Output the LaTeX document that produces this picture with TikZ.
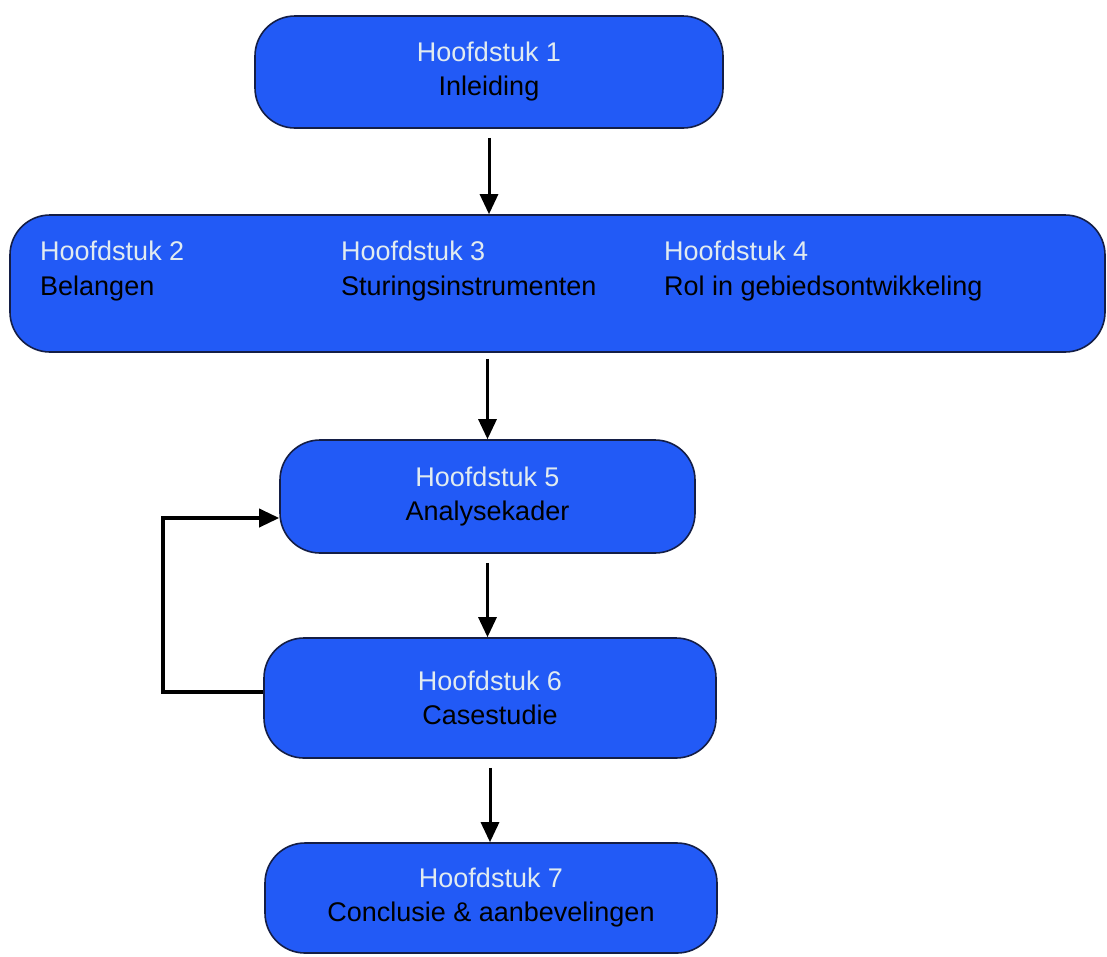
\documentclass[tikz,border=0pt]{standalone}
\usepackage{fontspec}
\setmainfont{Liberation Sans}
\usetikzlibrary{arrows.meta}
\definecolor{boxblue}{RGB}{34,90,246}
\definecolor{boxline}{RGB}{20,30,70}
\definecolor{kopwit}{RGB}{225,235,240}

\begin{document}
\begin{tikzpicture}[x=1pt,y=-1pt,
    hfd/.style={draw=boxline, line width=1.6pt, fill=boxblue, rounded corners=40pt,
      inner sep=0pt, align=center, font=\fontsize{27}{34}\selectfont},
    kolom/.style={anchor=west, align=left, inner sep=0pt, font=\fontsize{27}{35}\selectfont},
    pijl/.style={-{Triangle[length=20pt,width=18pt]}, line width=3pt}]
    \useasboundingbox[fill=white] (0,0) rectangle (1107,956);

    % hoofdstukken
    \node[hfd, minimum width=468pt, minimum height=112pt] (h1) at (489,72)
      {\textcolor{kopwit}{Hoofdstuk 1}\\Inleiding};
    \node[hfd, minimum width=1095pt, minimum height=137pt] (h234) at (557.5,283.5) {};
    \node[kolom] (h2) at (40,271) {\textcolor{kopwit}{Hoofdstuk 2}\\Belangen};
    \node[kolom] (h3) at (341,271) {\textcolor{kopwit}{Hoofdstuk 3}\\Sturingsinstrumenten};
    \node[kolom] (h4) at (664,271) {\textcolor{kopwit}{Hoofdstuk 4}\\Rol in gebiedsontwikkeling};
    \node[hfd, minimum width=415pt, minimum height=113pt] (h5) at (487.5,496.5)
      {\textcolor{kopwit}{Hoofdstuk 5}\\Analysekader};
    \node[hfd, minimum width=452pt, minimum height=120pt] (h6) at (490,698)
      {\textcolor{kopwit}{Hoofdstuk 6}\\Casestudie};
    \node[hfd, minimum width=452pt, minimum height=110pt] (h7) at (491,898)
      {\textcolor{kopwit}{Hoofdstuk 7}\\Conclusie \& aanbevelingen};

    % pijlen
    \draw[pijl, shorten <=9pt] (h1.south) -- (h1.south |- h234.north);
    \draw[pijl, shorten <=6pt] (h5.north |- h234.south) -- (h5.north);
    \draw[pijl, shorten <=9pt] (h5.south) -- (h5.south |- h6.north);
    \draw[pijl, shorten <=9pt] (h6.south) -- (h6.south |- h7.north);

    % terugkoppeling
    \coordinate (terug) at (163,0);
    \draw[pijl, line width=3.6pt] ([yshift=6pt]h6.west) -- ([yshift=6pt]h6.west -| terug)
      |- ([yshift=-21.5pt]h5.west);
\end{tikzpicture}
\end{document}
